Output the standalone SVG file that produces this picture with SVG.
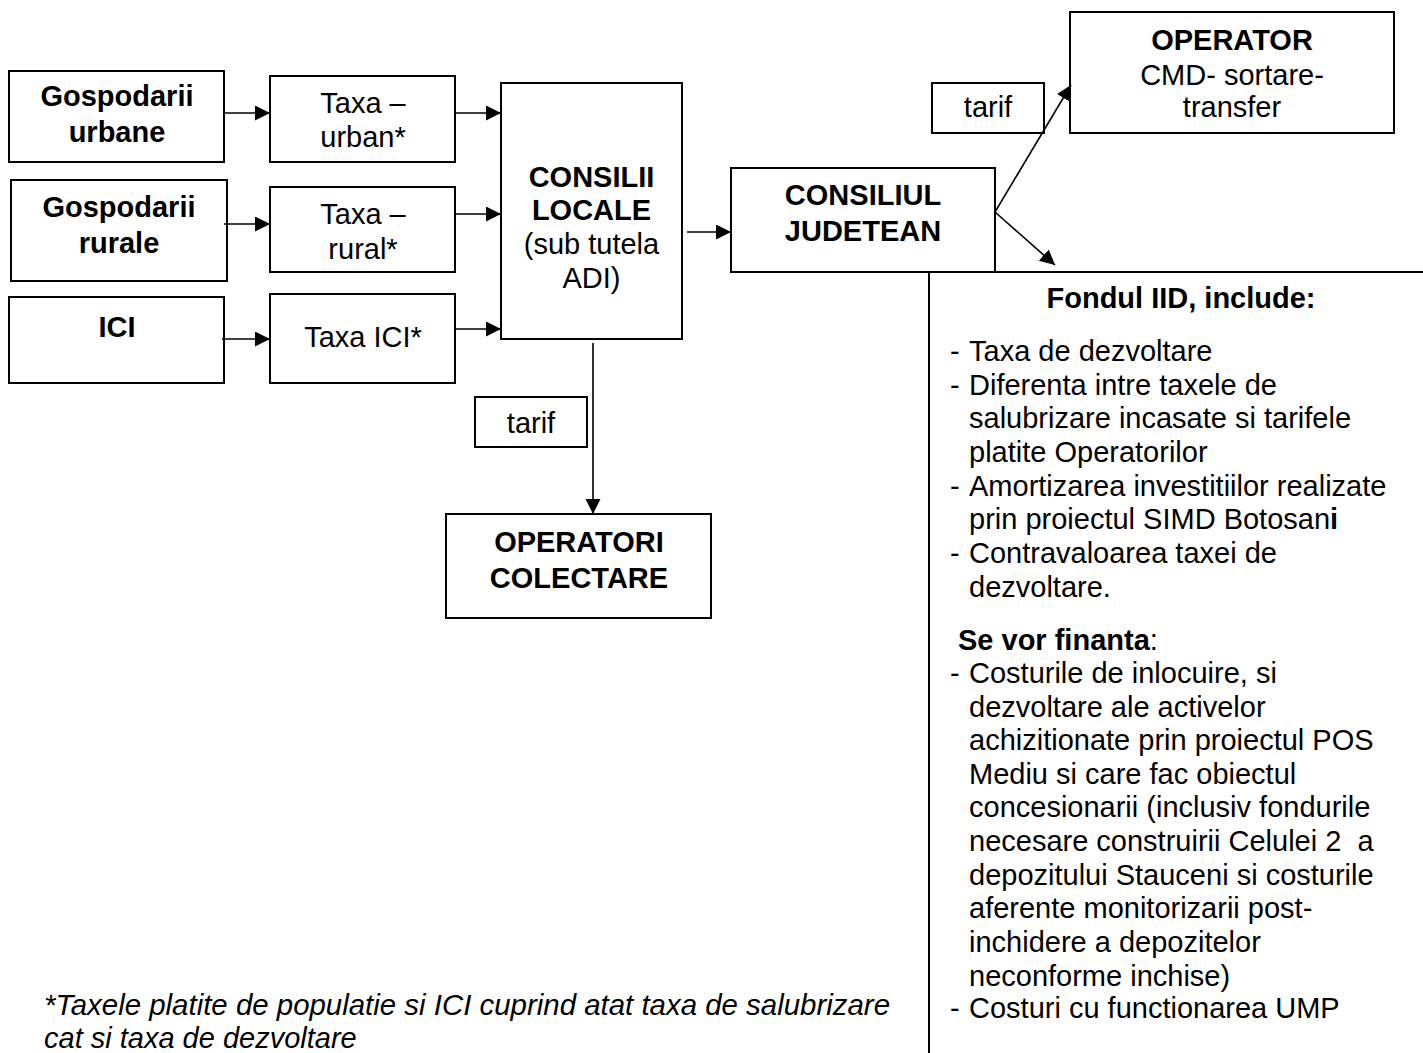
<svg xmlns="http://www.w3.org/2000/svg" width="1423" height="1053" viewBox="0 0 1423 1053">
<style>
text{font-family:"Liberation Sans",Arial,sans-serif;font-size:29px;fill:#000}
.b{font-weight:bold}
.c{text-anchor:middle}
.box{fill:#fff;stroke:#000;stroke-width:2}
.ln{fill:none;stroke:#000;stroke-width:1.6}
</style>
<defs>
<marker id="ah" markerUnits="userSpaceOnUse" markerWidth="16" markerHeight="16" refX="15" refY="7.5" orient="auto">
<path d="M0,0 L15,7.5 L0,15 z" fill="#000"/>
</marker>
</defs>
<rect width="1423" height="1053" fill="#fff"/>

<g id="fondul">
<path class="ln" d="M929,1060 L929,272 L1430,272" style="stroke-width:2"/>
<text class="b c" x="1181" y="308">Fondul IID, include:</text>
<text x="950" y="361">-</text><text x="969" y="361">Taxa de dezvoltare</text>
<text x="950" y="395">-</text><text x="969" y="395">Diferenta intre taxele de</text>
<text x="969" y="428">salubrizare incasate si tarifele</text>
<text x="969" y="462">platite Operatorilor</text>
<text x="950" y="496">-</text><text x="969" y="496">Amortizarea investitiilor realizate</text>
<text x="969" y="529">prin proiectul SIMD Botosan<tspan class="b">i</tspan></text>
<text x="950" y="563">-</text><text x="969" y="563">Contravaloarea taxei de</text>
<text x="969" y="597">dezvoltare.</text>
<text x="958" y="650"><tspan class="b">Se vor finanta</tspan>:</text>
<text x="950" y="683">-</text><text x="969" y="683">Costurile de inlocuire, si</text>
<text x="969" y="717">dezvoltare ale activelor</text>
<text x="969" y="750">achizitionate prin proiectul POS</text>
<text x="969" y="784">Mediu si care fac obiectul</text>
<text x="969" y="817">concesionarii (inclusiv fondurile</text>
<text x="969" y="851" style="white-space:pre">necesare construirii Celulei 2  a</text>
<text x="969" y="885">depozitului Stauceni si costurile</text>
<text x="969" y="918">aferente monitorizarii post-</text>
<text x="969" y="952">inchidere a depozitelor</text>
<text x="969" y="986">neconforme inchise)</text>
<text x="950" y="1018">-</text><text x="969" y="1018">Costuri cu functionarea UMP</text>
</g>

<g id="gosp-urbane">
<rect class="box" x="9" y="71" width="215" height="91"/>
<text class="b c" x="117" y="106">Gospodarii</text>
<text class="b c" x="117" y="142">urbane</text>
</g>
<g id="taxa-urban">
<rect class="box" x="270" y="76" width="185" height="86"/>
<text class="c" x="363" y="113">Taxa –</text>
<text class="c" x="363" y="147">urban*</text>
</g>
<g id="gosp-rurale">
<rect class="box" x="11" y="180" width="216" height="101"/>
<text class="b c" x="119" y="217">Gospodarii</text>
<text class="b c" x="119" y="253">rurale</text>
</g>
<g id="taxa-rural">
<rect class="box" x="270" y="187" width="185" height="85"/>
<text class="c" x="363" y="224">Taxa –</text>
<text class="c" x="363" y="259">rural*</text>
</g>
<g id="ici">
<rect class="box" x="9" y="297" width="215" height="86"/>
<text class="b c" x="117" y="337">ICI</text>
</g>
<g id="taxa-ici">
<rect class="box" x="270" y="294" width="185" height="89"/>
<text class="c" x="363" y="347">Taxa ICI*</text>
</g>
<g id="consilii-locale">
<rect class="box" x="501" y="83" width="181" height="256"/>
<text class="b c" x="591.5" y="187">CONSILII</text>
<text class="b c" x="591.5" y="220">LOCALE</text>
<text class="c" x="591.5" y="254">(sub tutela</text>
<text class="c" x="591.5" y="288">ADI)</text>
</g>
<g id="consiliul-judetean">
<rect class="box" x="731" y="168" width="264" height="104"/>
<text class="b c" x="863" y="205">CONSILIUL</text>
<text class="b c" x="863" y="241">JUDETEAN</text>
</g>
<g id="operator">
<rect class="box" x="1070" y="12" width="324" height="121"/>
<text class="b c" x="1232" y="50">OPERATOR</text>
<text class="c" x="1232" y="85">CMD- sortare-</text>
<text class="c" x="1232" y="117">transfer</text>
</g>
<g id="tarif-top">
<rect class="box" x="932" y="83" width="112" height="50"/>
<text class="c" x="988" y="117">tarif</text>
</g>
<g id="tarif-bottom">
<rect class="box" x="475" y="397" width="112" height="50"/>
<text class="c" x="531" y="433">tarif</text>
</g>
<g id="operatori-colectare">
<rect class="box" x="446" y="514" width="265" height="104"/>
<text class="b c" x="579" y="552">OPERATORI</text>
<text class="b c" x="579" y="588">COLECTARE</text>
</g>

<g id="connectors">
<line class="ln" x1="224" y1="113" x2="270" y2="113" marker-end="url(#ah)"/>
<line class="ln" x1="224" y1="224" x2="270" y2="224" marker-end="url(#ah)"/>
<line class="ln" x1="222" y1="339" x2="270" y2="339" marker-end="url(#ah)"/>
<line class="ln" x1="455" y1="113" x2="501" y2="113" marker-end="url(#ah)"/>
<line class="ln" x1="455" y1="214" x2="501" y2="214" marker-end="url(#ah)"/>
<line class="ln" x1="455" y1="329" x2="501" y2="329" marker-end="url(#ah)"/>
<line class="ln" x1="687" y1="232" x2="731" y2="232" marker-end="url(#ah)"/>
<line class="ln" x1="593" y1="343" x2="593" y2="514" marker-end="url(#ah)"/>
<line class="ln" x1="995" y1="212" x2="1071" y2="85" marker-end="url(#ah)"/>
<line class="ln" x1="995" y1="212" x2="1055" y2="265" marker-end="url(#ah)"/>
</g>

<g id="footnote">
<text x="44" y="1015" font-style="italic" textLength="846" lengthAdjust="spacingAndGlyphs">*Taxele platite de populatie si ICI cuprind atat taxa de salubrizare</text>
<text x="44" y="1048" font-style="italic">cat si taxa de dezvoltare</text>
</g>
</svg>
